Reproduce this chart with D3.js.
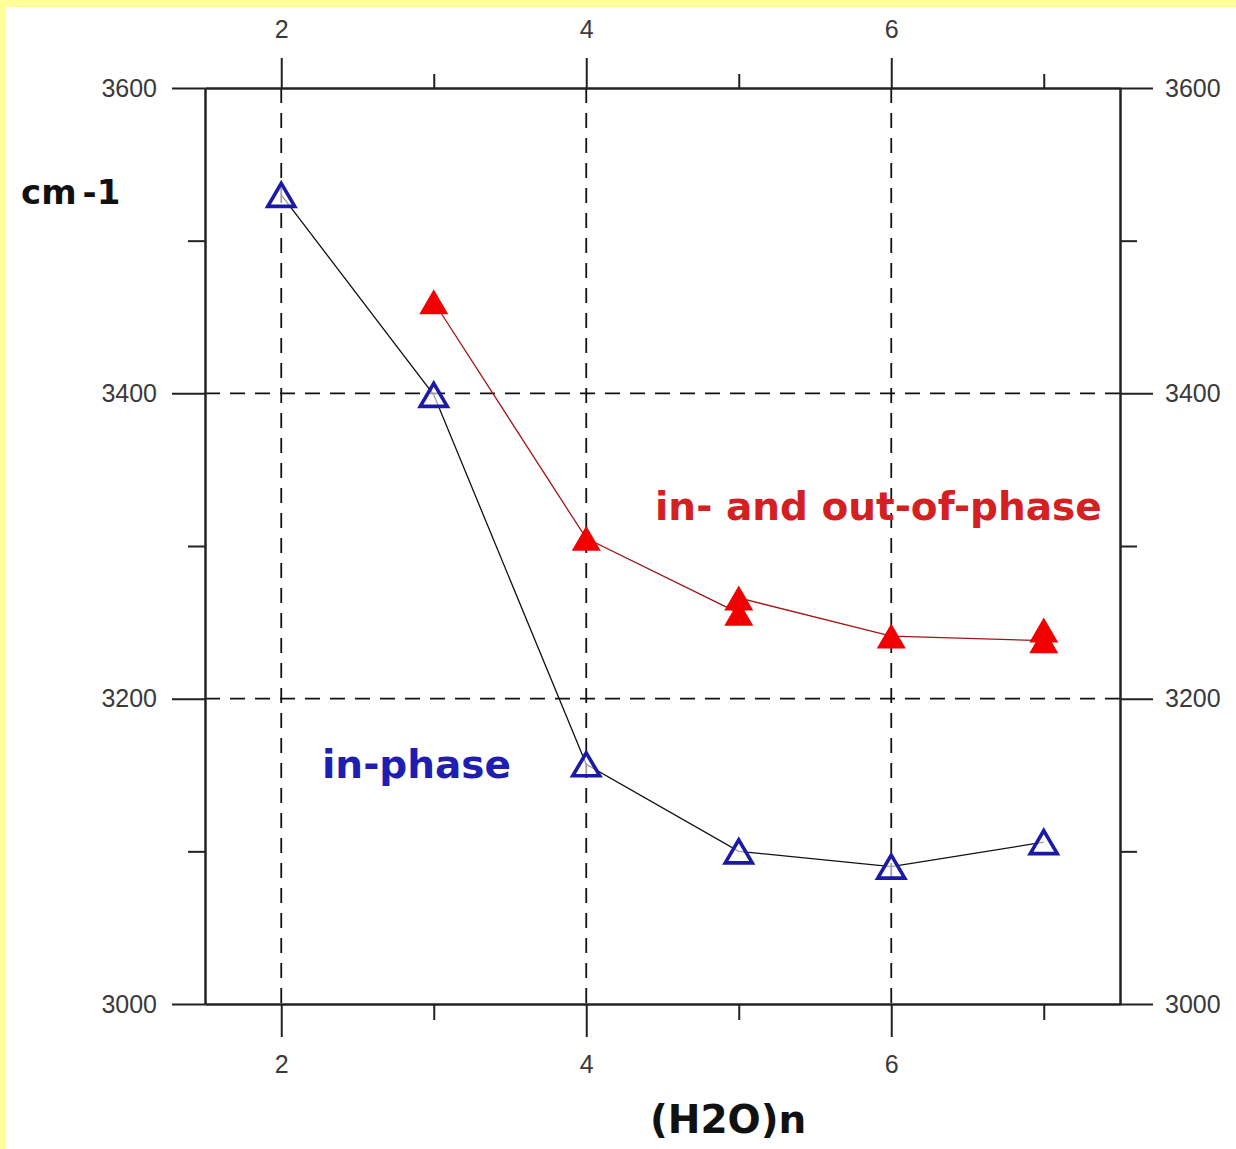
<!DOCTYPE html>
<html>
<head>
<meta charset="utf-8">
<script src="https://cdn.jsdelivr.net/npm/d3@7"></script>
<style>
  html, body { margin: 0; padding: 0; background: #ffffff; }
  svg { display: block; }
</style>
</head>
<body>
<script>
// O–H stretching frequencies of water clusters (H2O)n, cm-1
const clusterSize   = [2, 3, 4, 5, 6, 7];
const inPhase       = [3530, 3399, 3157, 3100, 3090, 3106];
const mixedSize     = [3, 4, 5, 5, 6, 7, 7];
const mixedPhase    = [3460, 3305, 3256, 3266, 3241, 3238, 3245];

const xMajorTicks = [2, 4, 6];
const xMinorTicks = [3, 5, 7];
const yMajorTicks = [3000, 3200, 3400, 3600];
const yMinorTicks = [3100, 3300, 3500];
const xGrid = [2, 4, 6];
const yGrid = [3200, 3400];

const W = 1236, H = 1149;
const plot = { left: 205, right: 1120, top: 88, bottom: 1004 };

const svg = d3.select("body").append("svg")
  .attr("width", W).attr("height", H);

// page background with the yellow frame on the top and left edges
svg.append("rect").attr("width", W).attr("height", H).attr("fill", "#ffff99");
svg.append("rect").attr("x", 6).attr("y", 7).attr("width", W - 6).attr("height", H - 7)
  .attr("fill", "#ffffff");

const x = d3.scaleLinear().domain([1.5, 7.5]).range([plot.left, plot.right]);
const y = d3.scaleLinear().domain([3000, 3600]).range([plot.bottom, plot.top]);

const axisColor = "#222";
const tickFont = "'Liberation Sans', Arial, sans-serif";

// dashed grid
const grid = svg.append("g").attr("stroke", "#111").attr("stroke-width", 1.8)
  .attr("stroke-dasharray", "15,10");
grid.selectAll("line.vx").data(xGrid).join("line")
  .attr("x1", d => x(d)).attr("x2", d => x(d))
  .attr("y1", plot.top).attr("y2", plot.bottom);
grid.selectAll("line.hy").data(yGrid).join("line")
  .attr("x1", plot.left).attr("x2", plot.right)
  .attr("y1", d => y(d)).attr("y2", d => y(d));

function styleAxis(g) {
  g.select(".domain").attr("stroke", axisColor).attr("stroke-width", 2);
  g.selectAll(".tick line").attr("stroke", axisColor).attr("stroke-width", 2);
  g.selectAll(".tick text").attr("fill", "#3a3a3a")
    .attr("font-family", tickFont).attr("font-size", 25);
}

// top axis
svg.append("g").attr("transform", `translate(0,${plot.top})`)
  .call(d3.axisTop(x).tickValues(xMajorTicks).tickSize(30).tickSizeOuter(0)
    .tickPadding(20).tickFormat(d3.format("d")))
  .call(styleAxis);
svg.append("g").attr("transform", `translate(0,${plot.top})`)
  .call(d3.axisTop(x).tickValues(xMinorTicks).tickSize(14).tickSizeOuter(0).tickFormat(""))
  .call(styleAxis);

// bottom axis
svg.append("g").attr("transform", `translate(0,${plot.bottom})`)
  .call(d3.axisBottom(x).tickValues(xMajorTicks).tickSize(33).tickSizeOuter(0)
    .tickPadding(18).tickFormat(d3.format("d")))
  .call(styleAxis);
svg.append("g").attr("transform", `translate(0,${plot.bottom})`)
  .call(d3.axisBottom(x).tickValues(xMinorTicks).tickSize(16).tickSizeOuter(0).tickFormat(""))
  .call(styleAxis);

// left axis
svg.append("g").attr("transform", `translate(${plot.left},0)`)
  .call(d3.axisLeft(y).tickValues(yMajorTicks).tickSize(33).tickSizeOuter(0)
    .tickPadding(15).tickFormat(d3.format("d")))
  .call(styleAxis);
svg.append("g").attr("transform", `translate(${plot.left},0)`)
  .call(d3.axisLeft(y).tickValues(yMinorTicks).tickSize(17).tickSizeOuter(0).tickFormat(""))
  .call(styleAxis);

// right axis
svg.append("g").attr("transform", `translate(${plot.right},0)`)
  .call(d3.axisRight(y).tickValues(yMajorTicks).tickSize(33).tickSizeOuter(0)
    .tickPadding(12).tickFormat(d3.format("d")))
  .call(styleAxis);
svg.append("g").attr("transform", `translate(${plot.right},0)`)
  .call(d3.axisRight(y).tickValues(yMinorTicks).tickSize(17).tickSizeOuter(0).tickFormat(""))
  .call(styleAxis);

// triangle marker centred on the data point
function triangle(halfW, halfH) {
  return {
    draw(ctx) {
      ctx.moveTo(0, -halfH);
      ctx.lineTo(halfW, halfH);
      ctx.lineTo(-halfW, halfH);
      ctx.closePath();
    }
  };
}

const inPhasePts = clusterSize.map((n, i) => ({ n, v: inPhase[i] }));
const mixedPts = mixedSize.map((n, i) => ({ n, v: mixedPhase[i] }));

const line = d3.line().x(d => x(d.n)).y(d => y(d.v));

// in- and out-of-phase series
svg.append("path").datum(mixedPts)
  .attr("d", line).attr("fill", "none")
  .attr("stroke", "#a31515").attr("stroke-width", 1.3);
svg.append("g").selectAll("path").data(mixedPts).join("path")
  .attr("transform", d => `translate(${x(d.n)},${y(d.v)})`)
  .attr("d", d3.symbol(triangle(14.5, 12.5)))
  .attr("fill", "#f00000");

// in-phase series
svg.append("path").datum(inPhasePts)
  .attr("d", line).attr("fill", "none")
  .attr("stroke", "#111").attr("stroke-width", 1.3);
svg.append("g").selectAll("path").data(inPhasePts).join("path")
  .attr("transform", d => `translate(${x(d.n)},${y(d.v)})`)
  .attr("d", d3.symbol(triangle(13.5, 11.5)))
  .attr("fill", "#ffffff").attr("fill-opacity", 0.6)
  .attr("stroke", "#1a1aa6").attr("stroke-width", 3.6)
  .attr("stroke-linejoin", "miter");

const boldFont = "'DejaVu Sans', Verdana, sans-serif";

// series labels
svg.append("text").attr("x", 322).attr("y", 778)
  .attr("font-family", boldFont).attr("font-weight", "bold").attr("font-size", 39)
  .attr("fill", "#1e1eb0").text("in-phase");
svg.append("text").attr("x", 655).attr("y", 520)
  .attr("font-family", boldFont).attr("font-weight", "bold").attr("font-size", 39)
  .attr("fill", "#d42020").text("in- and out-of-phase");

// axis titles
const yTitle = svg.append("text").attr("x", 21).attr("y", 204)
  .attr("font-family", boldFont).attr("font-weight", "bold").attr("font-size", 34)
  .attr("fill", "#111");
yTitle.append("tspan").text("cm");
yTitle.append("tspan").attr("dx", 6).text("-1");

svg.append("text").attr("x", 650).attr("y", 1133)
  .attr("font-family", boldFont).attr("font-weight", "bold").attr("font-size", 39)
  .attr("fill", "#111").text("(H2O)n");
</script>
</body>
</html>
